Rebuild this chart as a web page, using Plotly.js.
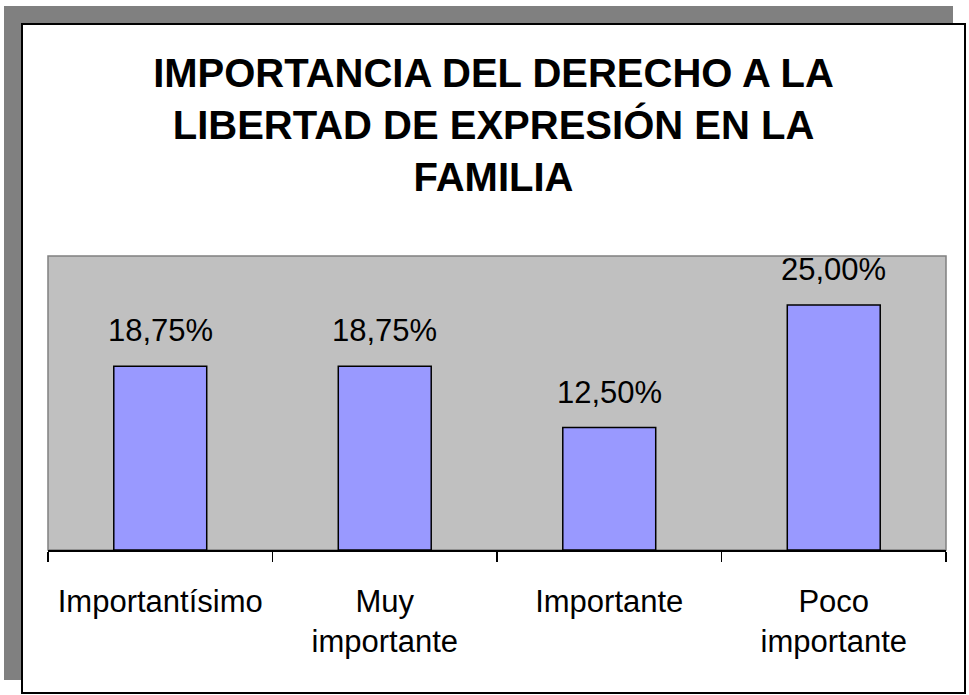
<!DOCTYPE html>
<html>
<head>
<meta charset="utf-8">
<script src="https://cdn.plot.ly/plotly-3.0.1.min.js"></script>
<style>html,body{margin:0;padding:0;background:#fff;}#chart{width:969px;height:695px;}</style>
</head>
<body>
<div id="chart"></div>
<script>
const categories = ["Importantísimo", "Muy<br>importante", "Importante", "Poco<br>importante"];
const values = [18.75, 18.75, 12.50, 25.00];
const titleText = "IMPORTANCIA DEL DERECHO A LA<br>LIBERTAD DE EXPRESIÓN EN LA<br>FAMILIA";

const W = 969, H = 695;
const L = 48, R = 946, T = 256, B = 550;
const px = v => (v - L) / (R - L);
const py = v => (B - v) / (B - T);
const FONT = "Arial, 'Liberation Sans', sans-serif";

const shapes = [
  {type:'rect', xref:'paper', yref:'paper', x0:px(4), x1:px(953), y0:py(6), y1:py(680),
   fillcolor:'#808080', line:{width:0}, layer:'below'},
  {type:'rect', xref:'paper', yref:'paper', x0:px(22), x1:px(965), y0:py(24), y1:py(693),
   fillcolor:'#ffffff', line:{color:'#000000', width:2}, layer:'below'},
  {type:'rect', xref:'paper', yref:'paper', x0:0, x1:1, y0:0, y1:1,
   fillcolor:'#C0C0C0', line:{color:'#808080', width:1.5}, layer:'below'}
];

const annotations = categories.map((c, i) => ({
  x: c, y: values[i], xref:'x', yref:'y',
  text: values[i].toFixed(2).replace('.', ',') + '%',
  showarrow:false, yanchor:'bottom', yshift:16,
  font:{family:FONT, size:31, color:'#000'}
}));

const trace = {
  type:'bar', x:categories, y:values, width:0.414,
  marker:{color:'#9999FF', line:{color:'#000000', width:1.5}},
  hoverinfo:'none'
};

const layout = {
  width:W, height:H,
  margin:{l:L, r:W-R, t:T, b:H-B, pad:0},
  paper_bgcolor:'rgba(0,0,0,0)', plot_bgcolor:'rgba(0,0,0,0)',
  showlegend:false,
  title:{text:titleText, x:493.5/W, xref:'container', xanchor:'center',
         y:1-87/H, yref:'container', yanchor:'top',
         font:{family:FONT, size:40, color:'#000', weight:'bold'}},
  xaxis:{type:'category', showline:true, linecolor:'#000', linewidth:1.5,
         ticks:'outside', ticklen:10, tickwidth:1.5, tickcolor:'#000', tickson:'boundaries',
         showgrid:false, zeroline:false, ticklabelstandoff:23,
         tickfont:{family:FONT, size:31, color:'#000'}},
  yaxis:{range:[0,30], visible:false, showgrid:false, zeroline:false, fixedrange:true},
  shapes:shapes, annotations:annotations
};

Plotly.newPlot('chart', [trace], layout, {displayModeBar:false, staticPlot:true});
</script>
</body>
</html>
